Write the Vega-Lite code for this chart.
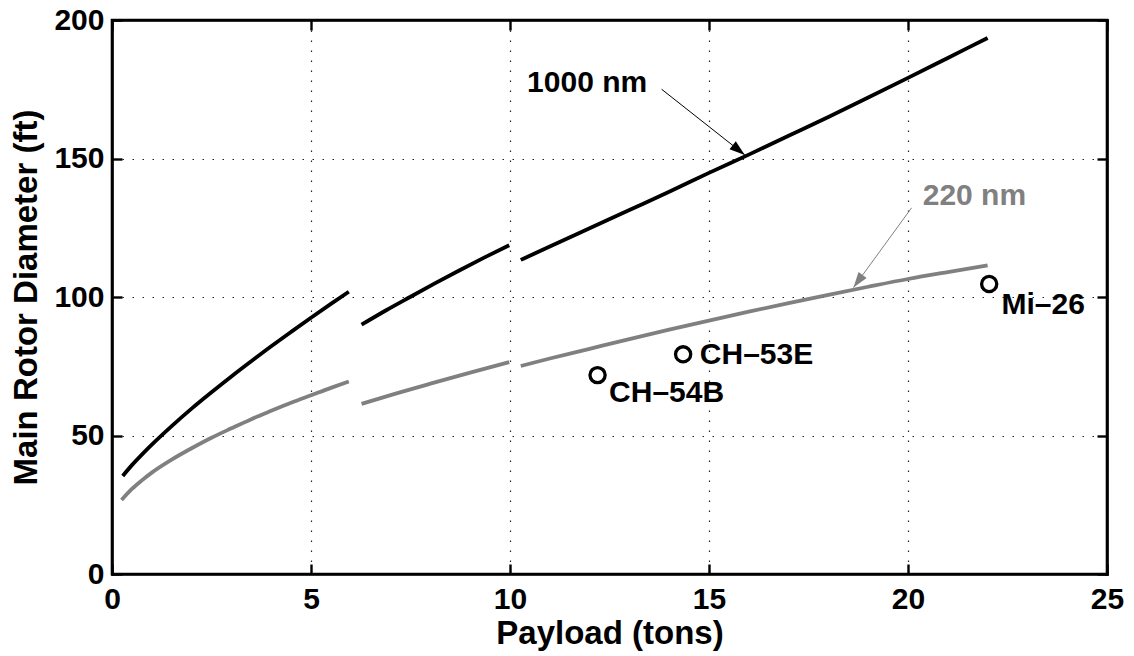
{
  "$schema": "https://vega.github.io/schema/vega-lite/v6.json",
  "width": 995,
  "height": 554,
  "autosize": "none",
  "padding": {"left": 112, "top": 20, "right": 27, "bottom": 82},
  "background": "white",
  "datasets": {
    "lines": [
      {"series": "1000 nm", "seg": "1000a", "x": 0.27, "y": 35.4},
      {"series": "1000 nm", "seg": "1000a", "x": 0.5, "y": 39.3},
      {"series": "1000 nm", "seg": "1000a", "x": 0.75, "y": 43.1},
      {"series": "1000 nm", "seg": "1000a", "x": 1, "y": 46.7},
      {"series": "1000 nm", "seg": "1000a", "x": 1.5, "y": 53.4},
      {"series": "1000 nm", "seg": "1000a", "x": 2, "y": 59.7},
      {"series": "1000 nm", "seg": "1000a", "x": 2.5, "y": 65.6},
      {"series": "1000 nm", "seg": "1000a", "x": 3, "y": 71.3},
      {"series": "1000 nm", "seg": "1000a", "x": 3.5, "y": 76.8},
      {"series": "1000 nm", "seg": "1000a", "x": 4, "y": 82.2},
      {"series": "1000 nm", "seg": "1000a", "x": 4.5, "y": 87.4},
      {"series": "1000 nm", "seg": "1000a", "x": 5, "y": 92.5},
      {"series": "1000 nm", "seg": "1000a", "x": 5.5, "y": 97.5},
      {"series": "1000 nm", "seg": "1000a", "x": 5.95, "y": 101.9},
      {"series": "1000 nm", "seg": "1000b", "x": 6.27, "y": 90},
      {"series": "1000 nm", "seg": "1000b", "x": 6.9, "y": 95.3},
      {"series": "1000 nm", "seg": "1000b", "x": 7.49, "y": 100},
      {"series": "1000 nm", "seg": "1000b", "x": 8.1, "y": 104.8},
      {"series": "1000 nm", "seg": "1000b", "x": 8.7, "y": 109.4},
      {"series": "1000 nm", "seg": "1000b", "x": 9.35, "y": 114.2},
      {"series": "1000 nm", "seg": "1000b", "x": 9.98, "y": 118.7},
      {"series": "1000 nm", "seg": "1000c", "x": 10.27, "y": 113.4},
      {"series": "1000 nm", "seg": "1000c", "x": 11, "y": 118.2},
      {"series": "1000 nm", "seg": "1000c", "x": 12, "y": 124.8},
      {"series": "1000 nm", "seg": "1000c", "x": 13, "y": 131.4},
      {"series": "1000 nm", "seg": "1000c", "x": 14, "y": 138.0},
      {"series": "1000 nm", "seg": "1000c", "x": 15, "y": 144.8},
      {"series": "1000 nm", "seg": "1000c", "x": 16, "y": 151.4},
      {"series": "1000 nm", "seg": "1000c", "x": 17, "y": 158.2},
      {"series": "1000 nm", "seg": "1000c", "x": 18, "y": 165.0},
      {"series": "1000 nm", "seg": "1000c", "x": 19, "y": 172.0},
      {"series": "1000 nm", "seg": "1000c", "x": 20, "y": 179.1},
      {"series": "1000 nm", "seg": "1000c", "x": 21, "y": 186.3},
      {"series": "1000 nm", "seg": "1000c", "x": 22, "y": 193.5},
      {"series": "220 nm", "seg": "220a", "x": 0.24, "y": 26.7},
      {"series": "220 nm", "seg": "220a", "x": 0.5, "y": 30.7},
      {"series": "220 nm", "seg": "220a", "x": 0.75, "y": 33.8},
      {"series": "220 nm", "seg": "220a", "x": 1, "y": 36.6},
      {"series": "220 nm", "seg": "220a", "x": 1.5, "y": 41.3},
      {"series": "220 nm", "seg": "220a", "x": 2, "y": 45.4},
      {"series": "220 nm", "seg": "220a", "x": 2.5, "y": 49.2},
      {"series": "220 nm", "seg": "220a", "x": 3, "y": 52.6},
      {"series": "220 nm", "seg": "220a", "x": 3.5, "y": 55.9},
      {"series": "220 nm", "seg": "220a", "x": 4, "y": 58.9},
      {"series": "220 nm", "seg": "220a", "x": 4.5, "y": 61.8},
      {"series": "220 nm", "seg": "220a", "x": 5, "y": 64.5},
      {"series": "220 nm", "seg": "220a", "x": 5.5, "y": 67.2},
      {"series": "220 nm", "seg": "220a", "x": 5.95, "y": 69.5},
      {"series": "220 nm", "seg": "220b", "x": 6.27, "y": 61.4},
      {"series": "220 nm", "seg": "220b", "x": 7, "y": 64.6},
      {"series": "220 nm", "seg": "220b", "x": 8, "y": 68.7},
      {"series": "220 nm", "seg": "220b", "x": 9, "y": 72.7},
      {"series": "220 nm", "seg": "220b", "x": 9.98, "y": 76.5},
      {"series": "220 nm", "seg": "220c", "x": 10.27, "y": 75.1},
      {"series": "220 nm", "seg": "220c", "x": 11, "y": 77.8},
      {"series": "220 nm", "seg": "220c", "x": 12, "y": 81.3},
      {"series": "220 nm", "seg": "220c", "x": 13, "y": 84.8},
      {"series": "220 nm", "seg": "220c", "x": 14, "y": 88.2},
      {"series": "220 nm", "seg": "220c", "x": 15, "y": 91.5},
      {"series": "220 nm", "seg": "220c", "x": 16, "y": 94.7},
      {"series": "220 nm", "seg": "220c", "x": 17, "y": 97.8},
      {"series": "220 nm", "seg": "220c", "x": 18, "y": 100.8},
      {"series": "220 nm", "seg": "220c", "x": 19, "y": 103.7},
      {"series": "220 nm", "seg": "220c", "x": 20, "y": 106.5},
      {"series": "220 nm", "seg": "220c", "x": 21, "y": 109},
      {"series": "220 nm", "seg": "220c", "x": 22, "y": 111.4}
    ],
    "aircraft": [
      {"name": "CH–54B", "x": 12.2, "y": 71.8, "lx": 12.49, "ly": 62.1},
      {"name": "CH–53E", "x": 14.35, "y": 79.3, "lx": 14.77, "ly": 75.7},
      {"name": "Mi–26", "x": 22.04, "y": 104.7, "lx": 22.35, "ly": 93.9}
    ],
    "notes": [
      {"series": "1000 nm", "label": "1000 nm", "tx": 10.43, "ty": 174, "x1": 13.81, "y1": 175.0, "x2": 15.9, "y2": 151.3, "angle": 38.3},
      {"series": "220 nm", "label": "220 nm", "tx": 20.37, "ty": 133.2, "x1": 20.09, "y1": 132.2, "x2": 18.63, "y2": 103.4, "angle": 126.1}
    ]
  },
  "resolve": {"scale": {"x": "independent", "y": "independent"}, "axis": {"x": "independent", "y": "independent"}},
  "layer": [
    {
      "data": {"name": "lines"},
      "mark": {"type": "line", "strokeWidth": 3.8, "strokeCap": "butt", "interpolate": "monotone"},
      "encoding": {
        "x": {"field": "x", "type": "quantitative", "scale": {"domain": [0, 25], "nice": false},
          "axis": {"orient": "bottom", "values": [0, 5, 10, 15, 20, 25], "title": "Payload (tons)", "labelPadding": 20, "titlePadding": 3}},
        "y": {"field": "y", "type": "quantitative", "scale": {"domain": [0, 200], "nice": false},
          "axis": {"orient": "left", "values": [0, 50, 100, 150, 200], "title": "Main Rotor Diameter (ft)", "labelPadding": 18, "titlePadding": 10}},
        "detail": {"field": "seg"},
        "color": {"field": "series", "type": "nominal", "scale": {"domain": ["1000 nm", "220 nm"], "range": ["#000000", "#808080"]}, "legend": null}
      }
    },
    {
      "data": {"name": "aircraft"},
      "mark": {"type": "point", "shape": "circle", "filled": false, "size": 230, "strokeWidth": 3.3, "color": "black", "opacity": 1},
      "encoding": {
        "x": {"field": "x", "type": "quantitative", "scale": {"domain": [0, 25], "nice": false},
          "axis": {"orient": "top", "values": [0, 5, 10, 15, 20, 25], "labels": false, "title": null, "grid": false}},
        "y": {"field": "y", "type": "quantitative", "scale": {"domain": [0, 200], "nice": false},
          "axis": {"orient": "right", "values": [0, 50, 100, 150, 200], "labels": false, "title": null, "grid": false}}
      }
    },
    {
      "data": {"name": "aircraft"},
      "mark": {"type": "text", "align": "left", "baseline": "alphabetic", "font": "Liberation Sans", "fontWeight": "bold", "fontSize": 30, "color": "black"},
      "encoding": {
        "x": {"field": "lx", "type": "quantitative", "scale": {"domain": [0, 25], "nice": false}, "axis": null},
        "y": {"field": "ly", "type": "quantitative", "scale": {"domain": [0, 200], "nice": false}, "axis": null},
        "text": {"field": "name"}
      }
    },
    {
      "data": {"name": "notes"},
      "mark": {"type": "rule", "strokeWidth": 1},
      "encoding": {
        "x": {"field": "x1", "type": "quantitative", "scale": {"domain": [0, 25], "nice": false}, "axis": null},
        "y": {"field": "y1", "type": "quantitative", "scale": {"domain": [0, 200], "nice": false}, "axis": null},
        "x2": {"field": "x2"},
        "y2": {"field": "y2"},
        "color": {"field": "series", "type": "nominal", "legend": null}
      }
    },
    {
      "data": {"name": "notes"},
      "mark": {"type": "point", "shape": "M0,0L-2,-0.65L-2,0.65Z", "filled": true, "size": 240, "opacity": 1, "strokeWidth": 0},
      "encoding": {
        "x": {"field": "x2", "type": "quantitative", "scale": {"domain": [0, 25], "nice": false}, "axis": null},
        "y": {"field": "y2", "type": "quantitative", "scale": {"domain": [0, 200], "nice": false}, "axis": null},
        "angle": {"field": "angle", "type": "quantitative", "scale": null},
        "color": {"field": "series", "type": "nominal", "legend": null}
      }
    },
    {
      "data": {"name": "notes"},
      "mark": {"type": "text", "align": "left", "baseline": "alphabetic", "font": "Liberation Sans", "fontWeight": "bold", "fontSize": 30},
      "encoding": {
        "x": {"field": "tx", "type": "quantitative", "scale": {"domain": [0, 25], "nice": false}, "axis": null},
        "y": {"field": "ty", "type": "quantitative", "scale": {"domain": [0, 200], "nice": false}, "axis": null},
        "text": {"field": "label"},
        "color": {"field": "series", "type": "nominal", "legend": null}
      }
    }
  ],
  "config": {
    "view": {"stroke": "black", "strokeWidth": 2.6},
    "axis": {
      "domainColor": "black",
      "domainWidth": 2.6,
      "domainCap": "square",
      "tickColor": "black",
      "tickWidth": 2.4,
      "tickSize": -10,
      "labelFont": "Liberation Sans",
      "labelFontWeight": "bold",
      "labelFontSize": 30,
      "labelColor": "black",
      "labelFlush": false,
      "titleFont": "Liberation Sans",
      "titleFontWeight": "bold",
      "titleFontSize": 33,
      "titleColor": "black",
      "grid": true,
      "gridColor": "black",
      "gridDash": [1.5, 8.5],
      "gridWidth": 1.2,
      "gridOpacity": 0.85
    }
  }
}
